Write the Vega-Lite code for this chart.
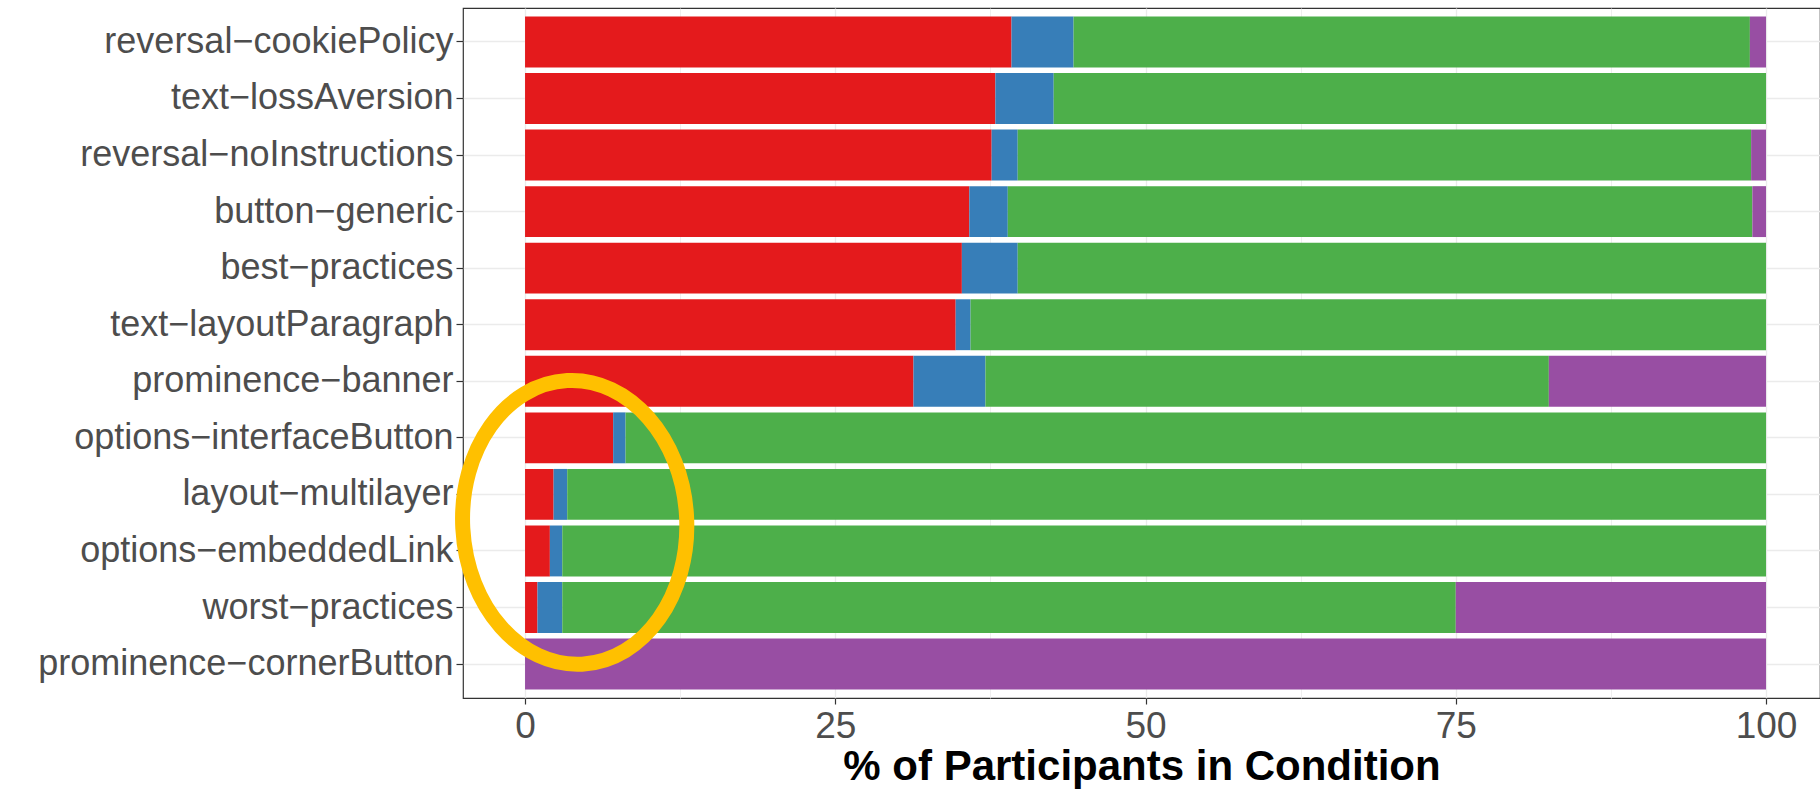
{
  "$schema": "https://vega.github.io/schema/vega-lite/v6.json",
  "width": 1357,
  "height": 690,
  "autosize": {"type": "none"},
  "padding": {"left": 463, "top": 8, "right": 0, "bottom": 91},
  "background": "white",
  "config": {
    "view": {"stroke": "#333333", "strokeWidth": 1.2},
    "font": "Liberation Sans"
  },
  "datasets": {
    "bars": [
      {"condition": "reversal−cookiePolicy", "group": "A", "ord": 1, "pct": 39.2},
      {"condition": "reversal−cookiePolicy", "group": "B", "ord": 2, "pct": 5.0},
      {"condition": "reversal−cookiePolicy", "group": "C", "ord": 3, "pct": 54.5},
      {"condition": "reversal−cookiePolicy", "group": "D", "ord": 4, "pct": 1.3},
      {"condition": "text−lossAversion", "group": "A", "ord": 1, "pct": 37.9},
      {"condition": "text−lossAversion", "group": "B", "ord": 2, "pct": 4.7},
      {"condition": "text−lossAversion", "group": "C", "ord": 3, "pct": 57.4},
      {"condition": "reversal−noInstructions", "group": "A", "ord": 1, "pct": 37.6},
      {"condition": "reversal−noInstructions", "group": "B", "ord": 2, "pct": 2.1},
      {"condition": "reversal−noInstructions", "group": "C", "ord": 3, "pct": 59.1},
      {"condition": "reversal−noInstructions", "group": "D", "ord": 4, "pct": 1.2},
      {"condition": "button−generic", "group": "A", "ord": 1, "pct": 35.8},
      {"condition": "button−generic", "group": "B", "ord": 2, "pct": 3.1},
      {"condition": "button−generic", "group": "C", "ord": 3, "pct": 60.0},
      {"condition": "button−generic", "group": "D", "ord": 4, "pct": 1.1},
      {"condition": "best−practices", "group": "A", "ord": 1, "pct": 35.2},
      {"condition": "best−practices", "group": "B", "ord": 2, "pct": 4.5},
      {"condition": "best−practices", "group": "C", "ord": 3, "pct": 60.3},
      {"condition": "text−layoutParagraph", "group": "A", "ord": 1, "pct": 34.7},
      {"condition": "text−layoutParagraph", "group": "B", "ord": 2, "pct": 1.2},
      {"condition": "text−layoutParagraph", "group": "C", "ord": 3, "pct": 64.1},
      {"condition": "prominence−banner", "group": "A", "ord": 1, "pct": 31.3},
      {"condition": "prominence−banner", "group": "B", "ord": 2, "pct": 5.8},
      {"condition": "prominence−banner", "group": "C", "ord": 3, "pct": 45.4},
      {"condition": "prominence−banner", "group": "D", "ord": 4, "pct": 17.5},
      {"condition": "options−interfaceButton", "group": "A", "ord": 1, "pct": 7.1},
      {"condition": "options−interfaceButton", "group": "B", "ord": 2, "pct": 1.0},
      {"condition": "options−interfaceButton", "group": "C", "ord": 3, "pct": 91.9},
      {"condition": "layout−multilayer", "group": "A", "ord": 1, "pct": 2.3},
      {"condition": "layout−multilayer", "group": "B", "ord": 2, "pct": 1.1},
      {"condition": "layout−multilayer", "group": "C", "ord": 3, "pct": 96.6},
      {"condition": "options−embeddedLink", "group": "A", "ord": 1, "pct": 2.0},
      {"condition": "options−embeddedLink", "group": "B", "ord": 2, "pct": 1.0},
      {"condition": "options−embeddedLink", "group": "C", "ord": 3, "pct": 97.0},
      {"condition": "worst−practices", "group": "A", "ord": 1, "pct": 1.0},
      {"condition": "worst−practices", "group": "B", "ord": 2, "pct": 2.0},
      {"condition": "worst−practices", "group": "C", "ord": 3, "pct": 72.0},
      {"condition": "worst−practices", "group": "D", "ord": 4, "pct": 25.0},
      {"condition": "prominence−cornerButton", "group": "D", "ord": 4, "pct": 100.0}
    ],
    "highlight": [
      {"condition": "layout−multilayer", "pct": 4.0}
    ]
  },
  "layer": [
    {
      "data": {"name": "bars"},
      "mark": {"type": "bar"},
      "encoding": {
        "y": {
          "field": "condition",
          "type": "nominal",
          "sort": ["reversal−cookiePolicy", "text−lossAversion", "reversal−noInstructions", "button−generic", "best−practices", "text−layoutParagraph", "prominence−banner", "options−interfaceButton", "layout−multilayer", "options−embeddedLink", "worst−practices", "prominence−cornerButton"],
          "scale": {"paddingInner": 0.1, "paddingOuter": 0.15},
          "axis": {
            "title": null,
            "domain": false,
            "grid": true,
            "gridColor": "#EBEBEB",
            "gridWidth": 1.3,
            "bandPosition": 0.5,
            "ticks": true,
            "tickSize": 7,
            "tickColor": "#333333",
            "tickWidth": 1.2,
            "labelFont": "Liberation Sans",
            "labelFontSize": 36,
            "labelColor": "#4D4D4D",
            "labelPadding": 3,
            "labelLimit": 0
          }
        },
        "x": {
          "field": "pct",
          "type": "quantitative",
          "aggregate": "sum",
          "stack": "zero",
          "scale": {"domain": [-5, 104.35], "nice": false, "zero": false},
          "axis": {
            "title": "% of Participants in Condition",
            "titleFont": "Liberation Sans",
            "titleFontSize": 42,
            "titleFontWeight": "bold",
            "titleColor": "#000000",
            "titlePadding": 2,
            "values": [0, 12.5, 25, 37.5, 50, 62.5, 75, 87.5, 100],
            "labelExpr": "datum.value % 25 === 0 ? datum.label : ''",
            "domain": false,
            "grid": true,
            "gridColor": "#EBEBEB",
            "gridWidth": {"condition": {"test": "datum.value % 25 !== 0", "value": 0.8}, "value": 1.3},
            "tickSize": 6,
            "tickColor": "#333333",
            "tickWidth": 1.2,
            "tickOpacity": {"condition": {"test": "datum.value % 25 !== 0", "value": 0}, "value": 1},
            "labelFont": "Liberation Sans",
            "labelFontSize": 37,
            "labelColor": "#4D4D4D",
            "labelPadding": 4,
            "labelOverlap": false,
            "labelFlush": false,
            "labelBound": false
          }
        },
        "color": {
          "field": "group",
          "type": "nominal",
          "scale": {"domain": ["A", "B", "C", "D"], "range": ["#E41A1C", "#377EB8", "#4DAF4A", "#984EA3"]},
          "legend": null
        },
        "order": {"field": "ord", "type": "quantitative"}
      }
    },
    {
      "data": {"name": "highlight"},
      "mark": {
        "type": "point",
        "shape": "M 0 -1 A 0.789 1 0 1 0 0 1 A 0.789 1 0 1 0 0 -1 Z",
        "size": 80656,
        "filled": false,
        "stroke": "#FFC000",
        "strokeWidth": 15,
        "opacity": 1,
        "angle": 357
      },
      "encoding": {
        "y": {
          "field": "condition",
          "type": "nominal",
          "bandPosition": 1.05,
          "sort": ["reversal−cookiePolicy", "text−lossAversion", "reversal−noInstructions", "button−generic", "best−practices", "text−layoutParagraph", "prominence−banner", "options−interfaceButton", "layout−multilayer", "options−embeddedLink", "worst−practices", "prominence−cornerButton"]
        },
        "x": {"field": "pct", "type": "quantitative", "stack": null}
      }
    }
  ]
}
